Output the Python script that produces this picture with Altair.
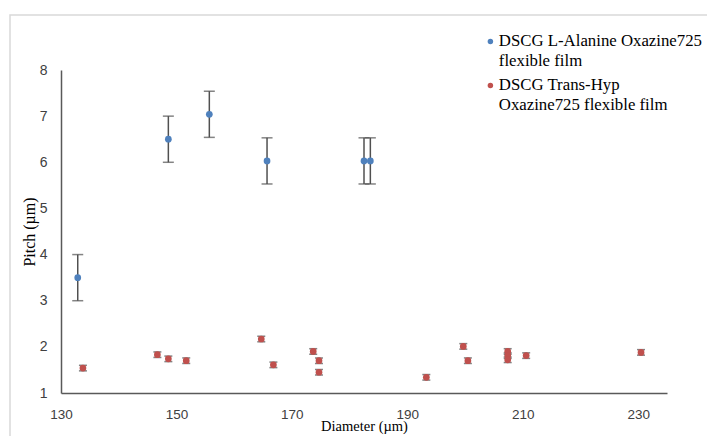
import altair as alt
import pandas as pd

blue_name = "DSCG L-Alanine Oxazine725|flexible film"
red_name = "DSCG Trans-Hyp|Oxazine725 flexible film"

blue_x = [132.9, 148.6, 155.7, 165.7, 182.5, 183.6]
blue_y = [3.5, 6.5, 7.04, 6.03, 6.03, 6.03]
blue_err = [0.5, 0.5, 0.5, 0.5, 0.5, 0.5]

red_x = [133.8, 146.7, 148.6, 151.7, 164.7, 166.8, 173.7, 174.7, 174.7,
         193.3, 199.7, 200.5, 207.4, 207.4, 207.4, 210.6, 230.5]
red_y = [1.54, 1.83, 1.74, 1.70, 2.17, 1.61, 1.90, 1.70, 1.45,
         1.34, 2.01, 1.70, 1.90, 1.81, 1.72, 1.81, 1.88]
red_err = [0.06] * 17

x_ticks = [130, 150, 170, 190, 210, 230]
y_ticks = [1, 2, 3, 4, 5, 6, 7, 8]

rows = []
for x, y, e in zip(blue_x, blue_y, blue_err):
    rows.append({"series": blue_name, "d": x, "p": y, "lo": y - e, "hi": y + e, "cap": 11})
for x, y, e in zip(red_x, red_y, red_err):
    rows.append({"series": red_name, "d": x, "p": y, "lo": y - e, "hi": y + e, "cap": 8})
df = pd.DataFrame(rows)

xs = alt.Scale(domain=[130, 235], nice=False, zero=False)
ys = alt.Scale(domain=[1, 8], nice=False, zero=False)

X = alt.X("d:Q", scale=xs, title="Diameter (µm)",
          axis=alt.Axis(values=x_ticks, grid=False, ticks=False, labelPadding=14,
                        labelFlush=False, titlePadding=-1, domainColor="#595959", domainWidth=1.5,
                        labelFont="Liberation Sans", labelFontSize=13.5, labelColor="#404040",
                        titleFont="Liberation Serif", titleFontSize=14.5, titleFontWeight="normal",
                        titleColor="#000000"))
Y = alt.Y("p:Q", scale=ys, title="Pitch (µm)",
          axis=alt.Axis(values=y_ticks, grid=False, ticks=False, labelPadding=14,
                        labelFlush=False, titlePadding=2, domainColor="#595959", domainWidth=1.5,
                        labelFont="Liberation Sans", labelFontSize=14, labelColor="#404040",
                        titleFont="Liberation Serif", titleFontSize=16, titleFontWeight="normal",
                        titleColor="#000000"))

border = alt.Chart(pd.DataFrame({"k": [0]})).mark_rect(
    fill=None, stroke="#d9d9d9", strokeWidth=1.5
).encode(x=alt.value(-51), y=alt.value(-55), x2=alt.value(700), y2=alt.value(420))

base = alt.Chart(df)

err = base.mark_rule(color="#505050", strokeWidth=1.5).encode(
    x=alt.X("d:Q", scale=xs), y=alt.Y("lo:Q", scale=ys), y2="hi:Q")
cap_lo = base.mark_tick(orient="horizontal", color="#505050", thickness=1.5).encode(
    x=alt.X("d:Q", scale=xs), y=alt.Y("lo:Q", scale=ys),
    size=alt.Size("cap:Q", scale=None, legend=None))
cap_hi = base.mark_tick(orient="horizontal", color="#505050", thickness=1.5).encode(
    x=alt.X("d:Q", scale=xs), y=alt.Y("hi:Q", scale=ys),
    size=alt.Size("cap:Q", scale=None, legend=None))

pts = base.mark_circle(size=45, opacity=1).encode(
    x=X, y=Y,
    color=alt.Color("series:N",
                    scale=alt.Scale(domain=[blue_name, red_name], range=["#4f81bd", "#c0504d"]),
                    legend=alt.Legend(title=None, orient="none", legendX=421, legendY=-37,
                                      labelExpr="split(datum.label, '|')",
                                      labelFont="Liberation Serif", labelFontSize=16.8,
                                      labelColor="#000000", labelLimit=300,
                                      labelBaseline="middle", labelOffset=0,
                                      symbolType="circle", symbolSize=30,
                                      rowPadding=6, padding=0,
                                      symbolStrokeWidth=0)),
)

chart = alt.layer(border, err, cap_lo, cap_hi, pts).properties(
    width=606, height=323,
    autosize=alt.AutoSizeParams(type="none"),
    padding={"left": 53, "top": 62, "right": 40, "bottom": 43},
).configure(
    style={"guide-label": {"lineHeight": 20}}
).configure_view(stroke=None)

chart.save("out.html", embed_options={"renderer": "svg", "actions": False})
